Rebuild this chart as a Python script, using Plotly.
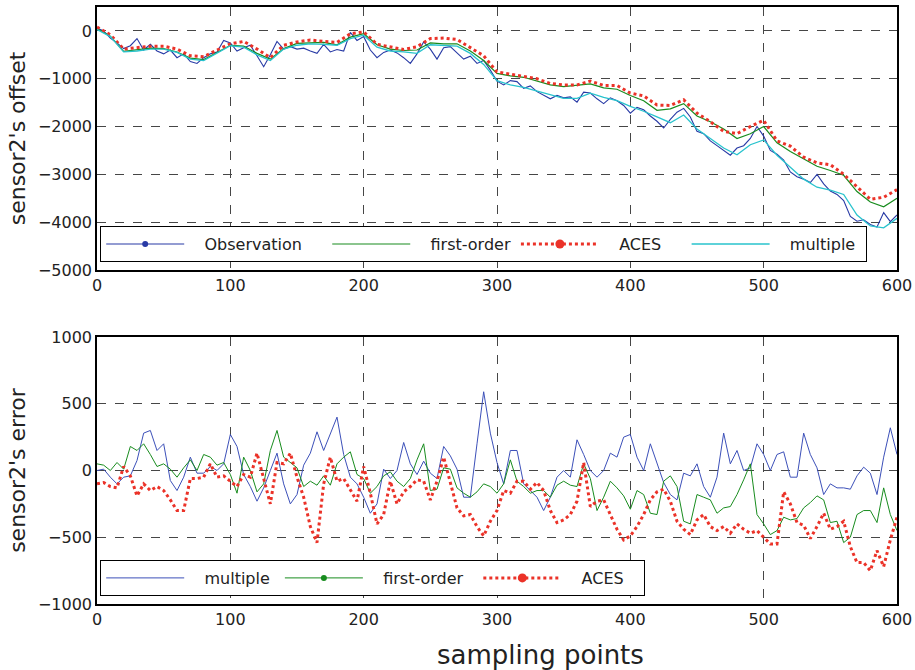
import numpy as np
import plotly.graph_objects as go

# ---- sample indices ----
s_fine = np.arange(0, 601, 5)     # every 5th sampling point
s_coarse = np.arange(0, 601, 10)  # every 10th sampling point

# ---- upper panel: sensor2's offset ----
observation = [
    60, 0, -150, -250, -370, -310, -160, -400, -280, -420, -480, -400, -560, -480, -640, -680,
    -560, -480, -440, -200, -250, -420, -350, -300, -520, -750, -500, -220, -380, -330, -380, -360,
    -420, -470, -280, -440, -390, -420, -30, -200, -120, -400, -560, -450, -400, -460, -560, -680,
    -480, -230, -380, -590, -350, -330, -460, -590, -530, -680, -620, -820, -1050, -1130, -1040, -1060,
    -1200, -1150, -1270, -1340, -1420, -1350, -1400, -1380, -1490, -1280, -1300, -1420, -1520, -1400,
    -1460, -1560, -1720, -1600, -1650, -1780, -1890, -2030, -1850, -1700, -1620, -1800, -2100, -2150,
    -2300, -2400, -2500, -2600, -2450, -2400, -2250, -2000, -2200, -2500, -2580, -2700, -2950, -3050,
    -3100, -3170, -3000, -3200, -3350, -3420, -3550, -3880, -3980, -3950, -4050, -4100, -3800, -3990,
    -3850,
]
first_order_offset = [
    50, -110, -430, -400, -360, -370, -440, -570, -600, -450, -300, -320, -470, -590, -370, -260,
    -250, -240, -290, -130, -60, -290, -380, -410, -400, -250, -270, -270, -420, -620, -890, -940,
    -970, -1050, -1130, -1165, -1130, -1110, -1190, -1220, -1350, -1460, -1660, -1630, -1520, -1780,
    -1900, -2050, -2250, -2150, -2000, -2340, -2520, -2680, -2830, -2920, -3020, -3360, -3580, -3680,
    -3500,
]
aces_offset = [
    80, -80, -380, -350, -320, -320, -380, -520, -540, -400, -270, -220, -380, -560, -300, -230,
    -190, -220, -240, -60, -20, -280, -330, -390, -330, -160, -150, -180, -350, -520, -860, -910,
    -950, -1000, -1100, -1130, -1130, -1050, -1140, -1140, -1300, -1360, -1550, -1560, -1440, -1720,
    -1900, -2100, -2150, -2000, -1870, -2300, -2410, -2640, -2760, -2800, -3000, -3250, -3520, -3480,
    -3320,
]
multiple_offset = [
    30, -120, -440, -420, -380, -380, -450, -590, -620, -470, -310, -340, -500, -620, -380, -300,
    -270, -280, -300, -160, -90, -340, -420, -440, -470, -290, -300, -320, -470, -700, -1040, -1130,
    -1180, -1260, -1340, -1410, -1410, -1300, -1390, -1460, -1580, -1680, -1800, -1920, -1760, -2050,
    -2250, -2450, -2590, -2380, -2280, -2600, -2850, -3100, -3270, -3330, -3420, -3850, -4080, -4120,
    -3920,
]

# ---- lower panel: sensor2's error ----
multiple_error = [
    0, 10, -50, -100, -50, -40, 75, 280, 300, 150, 200, -75, -150, -50, 100, -20, -20, 30, 0, 50,
    270, 180, -30, -120, -230, -130, 0, 130, -100, -250, -180, 40, 130, 290, 150, 280, 400, 120, -50,
    -100, -200, -320, -250, 10, -60, 0, 210, 50, -30, 70, -20, -60, 180, 110, 10, -200, -200, 200,
    590, 280, 60, -100, 150, 150, -100, -150, -200, -300, -200, -50, 0, -50, 230, 120, 0, -50, 0, 130,
    100, 250, 270, 100, 0, 200, 50, -90, -180, -220, -20, -40, 50, -120, -200, -50, 280, 50, 150, 0,
    20, 200, 120, 0, 120, 140, -50, -50, 280, 120, 20, -180, -100, -130, -130, -140, -40, 25, -20,
    -180, 100, 320, 120,
]
first_order_error = [
    50, 40, 0, 60, 10, 180, 150, 200, 120, 30, 50, 10, -50, 20, 80, 0, 120, 100, 40, 60, -30, -170,
    100, 0, -160, -100, 150, 300, 100, 60, 20, -120, -80, -110, -40, -110, 50, 100, 140, -30, -60,
    -170, -120, -40, -10, -80, -120, -60, 80, 200, -150, -140, 20, 10, -130, -170, -200, -160, -100,
    -120, -170, -100, 80, -80, -120, -170, -150, -150, -200, -110, -80, -110, -120, 50, -60, -300,
    -200, -80, -130, -190, -290, -150, -180, -320, -330, -80, -40, -120, -380, -400, -180, -200, -220,
    -320, -280, -270, -180, -70, 50, -330, -400, -480, -450, -350, -370, -360, -280, -240, -190, -220,
    -390, -380, -540, -500, -330, -300, -300, -390, -130, -330, -450,
]
aces_error = [
    -100, -90, -120, -130, 30, -40, -190, -100, -150, -120, -150, -220, -300, -300, -60, -60, -50,
    50, -50, -40, -80, -120, -30, -50, 130, -50, -250, 60, 50, 130, -50, -200, -420, -540, -100, 100,
    -80, -60, -150, -230, 30, -170, -400, -330, -80, -250, -160, -120, -70, -80, -220, -80, 100, -80,
    -280, -340, -330, -420, -490, -380, -300, -150, -170, -80, -80, -140, -90, -150, -300, -390, -370,
    -330, -230, 60, -270, -230, -220, -330, -440, -520, -490, -420, -330, -220, -160, -140, -230,
    -380, -440, -480, -370, -330, -420, -450, -420, -470, -400, -440, -470, -450, -500, -550, -550,
    -160, -250, -390, -410, -510, -420, -320, -440, -420, -380, -570, -690, -690, -750, -600, -720,
    -520, -350,
]

x_ticks = [0, 100, 200, 300, 400, 500, 600]
offset_ticks = [0, -1000, -2000, -3000, -4000, -5000]
error_ticks = [1000, 500, 0, -500, -1000]

BLUE = "rgb(40,58,165)"
GREEN = "rgb(24,140,30)"
RED = "rgb(235,50,40)"
CYAN = "rgb(40,195,205)"
BLUE_LIGHT = "rgb(60,80,185)"
FONT = "DejaVu Sans, Verdana, sans-serif"

NB = "\u00a0"  # non-breaking space keeps legend label spacing intact


def label(text, lead=3, trail=0):
    return NB * lead + text + NB * trail


def legend_dot_only():
    # markers exist for the legend swatch but are hidden on the plot itself
    return dict(selectedpoints=[], unselected=dict(marker=dict(opacity=0)))


fig = go.Figure()

# upper panel traces
fig.add_trace(go.Scatter(
    x=s_fine, y=observation, name=label("Observation", trail=4), mode="lines+markers",
    line=dict(color=BLUE, width=1.1), marker=dict(color=BLUE, size=6),
    xaxis="x", yaxis="y", legend="legend", **legend_dot_only()))
fig.add_trace(go.Scatter(
    x=s_coarse, y=first_order_offset, name=label("first-order"), mode="lines",
    line=dict(color=GREEN, width=1.2), xaxis="x", yaxis="y", legend="legend"))
fig.add_trace(go.Scatter(
    x=s_coarse, y=aces_offset, name=label("ACES", trail=4), mode="lines+markers",
    line=dict(color=RED, width=3, dash="dot"), marker=dict(color=RED, size=9),
    xaxis="x", yaxis="y", legend="legend", **legend_dot_only()))
fig.add_trace(go.Scatter(
    x=s_coarse, y=multiple_offset, name=label("multiple", trail=1), mode="lines",
    line=dict(color=CYAN, width=1.3), xaxis="x", yaxis="y", legend="legend"))

# lower panel traces
fig.add_trace(go.Scatter(
    x=s_fine, y=multiple_error, name=label("multiple", trail=1), mode="lines",
    line=dict(color=BLUE_LIGHT, width=1), xaxis="x2", yaxis="y2", legend="legend2"))
fig.add_trace(go.Scatter(
    x=s_fine, y=first_order_error, name=label("first-order", trail=2), mode="lines+markers",
    line=dict(color=GREEN, width=1), marker=dict(color=GREEN, size=6),
    xaxis="x2", yaxis="y2", legend="legend2", **legend_dot_only()))
fig.add_trace(go.Scatter(
    x=s_fine, y=aces_error, name=label("ACES", trail=3), mode="lines+markers",
    line=dict(color=RED, width=3, dash="dot"), marker=dict(color=RED, size=9),
    xaxis="x2", yaxis="y2", legend="legend2", **legend_dot_only()))

grid = dict(showgrid=True, gridcolor="rgb(70,70,70)", griddash="dash", gridwidth=1)
axis_common = dict(
    showline=True, linecolor="black", linewidth=1.5, mirror=True, ticks="",
    zeroline=False, automargin=False, tickfont=dict(size=16, color="#222"), **grid)

legend_common = dict(
    orientation="h", xanchor="left", yanchor="top", bgcolor="white",
    bordercolor="black", borderwidth=1, font=dict(size=16), itemwidth=78,
    itemclick=False)

fig.update_layout(
    width=915, height=670,
    margin=dict(l=97, r=18, t=7, b=66),
    paper_bgcolor="white", plot_bgcolor="white",
    font=dict(family=FONT, color="#222"),
    showlegend=True,
    xaxis=dict(domain=[0, 1], anchor="y", range=[0, 600], tickvals=x_ticks, **axis_common),
    yaxis=dict(domain=[0.5595, 1], anchor="x", range=[-5000, 500], tickvals=offset_ticks,
               title=dict(text="sensor2's offset", font=dict(size=22), standoff=6),
               **axis_common),
    xaxis2=dict(domain=[0, 1], anchor="y2", range=[0, 600], tickvals=x_ticks, **axis_common),
    yaxis2=dict(domain=[0, 0.4472], anchor="x2", range=[-1000, 1000], tickvals=error_ticks,
                title=dict(text="sensor2's error", font=dict(size=22), standoff=6),
                **axis_common),
    legend=dict(x=0.004, y=0.633, **legend_common),
    legend2=dict(x=0.004, y=0.0737, **legend_common),
    annotations=[dict(
        text="sampling points", xref="paper", yref="paper", x=0.554, y=0,
        xanchor="center", yanchor="middle", yshift=-51, showarrow=False,
        font=dict(size=26, color="#222"))],
)

fig.write_html("out.html")
